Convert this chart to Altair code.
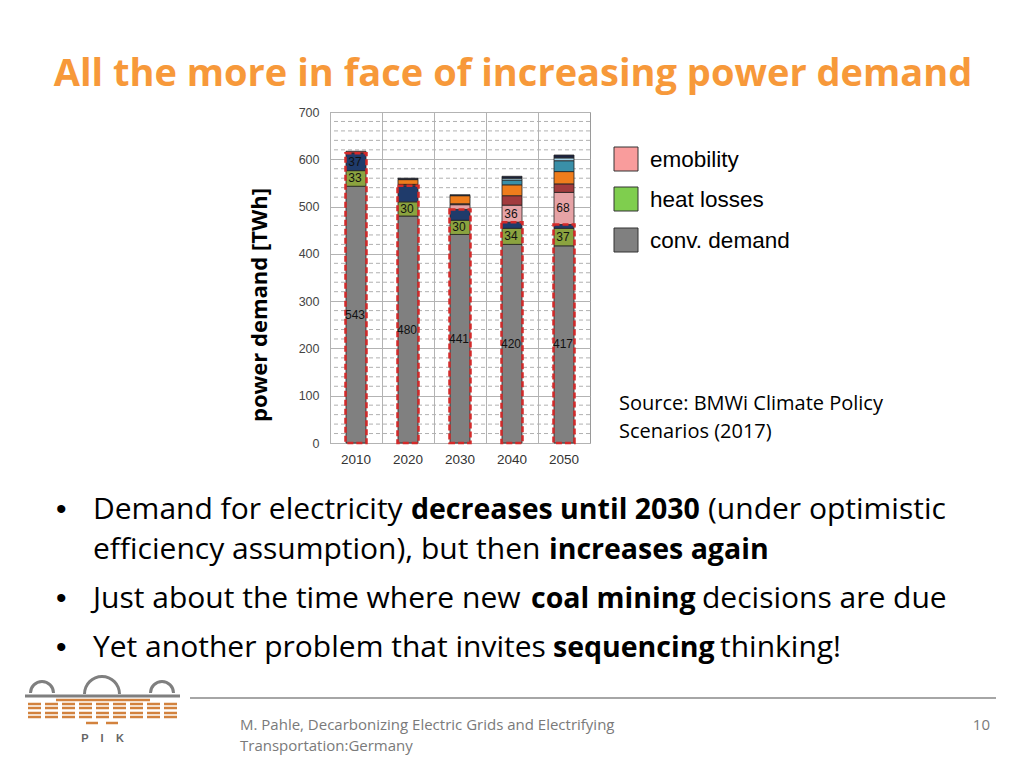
import altair as alt
import pandas as pd

# ---------------- data ----------------
years = ["2010", "2020", "2030", "2040", "2050"]
conv_demand = [543, 480, 441, 420, 417]
heat_losses = [33, 30, 30, 34, 37]
heat_pumps = [37, 34, 23, 13, 8]
emobility = [0, 2, 10, 36, 68]
industry = [4, 1, 2, 20, 18]
buildings = [0, 10, 17, 23, 26]
transport_other = [0, 0, 0, 10, 23]
hydrogen = [0, 0, 0, 4, 6]
other = [0, 3, 2, 4, 6]

series_names = ["conv. demand", "heat losses", "heat pumps", "emobility", "industry",
                "buildings", "transport other", "hydrogen", "other"]
series_values = [conv_demand, heat_losses, heat_pumps, emobility, industry,
                 buildings, transport_other, hydrogen, other]
series_colors = ["#808080", "#8ba33f", "#1f3b6b", "#e6a3a6", "#a23b3d",
                 "#ef7d1c", "#3a8fa8", "#a8d5ea", "#1b2340"]
labelled = {"conv. demand": years, "heat losses": years,
            "heat pumps": ["2010"], "emobility": ["2040", "2050"]}
outline_series = ["conv. demand", "heat losses", "heat pumps"]

legend_labels = ["emobility", "heat losses", "conv. demand"]
legend_colors = ["#f99c9c", "#7fce4e", "#808080"]

y_major = [0, 100, 200, 300, 400, 500, 600, 700]
y_minor = [v for v in range(20, 700, 20) if v % 100 != 0]

# ---------------- tables ----------------
rows, lab_rows = [], []
for i, y in enumerate(years):
    base = 0
    for name, vals in zip(series_names, series_values):
        v = vals[i]
        if v > 0:
            rows.append({"year": y, "series": name, "start": base, "end": base + v})
            if y in labelled.get(name, []):
                lab_rows.append({"year": y, "label": str(v), "mid": base + v / 2})
        base += v
df = pd.DataFrame(rows)
lab_df = pd.DataFrame(lab_rows)
out_df = pd.DataFrame({
    "year": years,
    "zero": [0] * len(years),
    "top": [sum(series_values[series_names.index(s)][i] for s in outline_series)
            for i in range(len(years))],
})
minor_df = pd.DataFrame({"v": y_minor})

# plot area sits at page (330,112), size 260x331
OX, OY = 330, 112
W, H = 260, 331
BODY = "Open Sans"

xenc = alt.X("year:N", sort=years,
             scale=alt.Scale(paddingInner=0, paddingOuter=0),
             axis=alt.Axis(title=None, labelAngle=0, grid=True, bandPosition=0,
                           gridColor="#b3b3b3", ticks=False, domain=False,
                           labelPadding=9, labelFont="Liberation Sans",
                           labelFontSize=13.5, labelColor="#333"))
yscale = alt.Scale(domain=[0, 700], nice=False)

minor = alt.Chart(minor_df).mark_rule(color="#b0b0b0", strokeDash=[4, 3], strokeWidth=1).encode(
    y=alt.Y("v:Q", scale=yscale,
            axis=alt.Axis(title=None, values=y_major, grid=True, gridColor="#b3b3b3",
                          ticks=False, domain=False, labelPadding=11,
                          labelFont="Liberation Sans", labelFontSize=12.5, labelColor="#444"))
)

bars = alt.Chart(df).mark_bar(width=20, stroke="#222", strokeWidth=0.8).encode(
    x=xenc,
    y=alt.Y("start:Q", scale=yscale),
    y2="end:Q",
    color=alt.Color("series:N", scale=alt.Scale(domain=series_names, range=series_colors),
                    legend=None),
)

outline = alt.Chart(out_df).mark_bar(width=21, fillOpacity=0, stroke="#d42a2a",
                                     strokeDash=[6, 3], strokeWidth=2.5).encode(
    x=alt.X("year:N", sort=years), y=alt.Y("zero:Q", scale=yscale), y2="top:Q")

seg_labels = alt.Chart(lab_df).mark_text(font="Liberation Sans", fontSize=12, color="#111",
                                         dx=-1).encode(
    x=alt.X("year:N", sort=years), y=alt.Y("mid:Q", scale=yscale), text="label:N")


def one():
    return pd.DataFrame({"k": [0]})


def txt(s, x, y, size, font=BODY, weight="normal", color="#000", align="left",
        baseline="alphabetic", angle=None):
    kw = dict(text=s, font=font, fontSize=size, fontWeight=weight, color=color,
              align=align, baseline=baseline)
    if angle is not None:
        kw["angle"] = angle
    return alt.Chart(one()).mark_text(**kw).encode(x=alt.value(x - OX), y=alt.value(y - OY))


def rect(x1, y1, x2, y2, fill, stroke="#333"):
    return alt.Chart(one()).mark_rect(fill=fill, stroke=stroke, strokeWidth=1).encode(
        x=alt.value(x1 - OX), x2=alt.value(x2 - OX), y=alt.value(y1 - OY), y2=alt.value(y2 - OY))


def hline(x1, x2, y, color, width, dash=None):
    kw = dict(color=color, strokeWidth=width)
    if dash:
        kw["strokeDash"] = dash
    return alt.Chart(one()).mark_rule(**kw).encode(
        x=alt.value(x1 - OX), x2=alt.value(x2 - OX), y=alt.value(y - OY))


def dome(cx, cy, r):
    return alt.Chart(one()).mark_arc(radius=r, radius2=r - 3, theta=4.7124, theta2=7.8540,
                                     color="#7f7f7f").encode(
        x=alt.value(cx - OX), y=alt.value(cy - OY))


layers = [minor, bars, outline, seg_labels]

# title
layers.append(txt("All the more in face of increasing power demand", 513, 86, 38,
                  weight="bold", color="#F7993A", align="center"))
# axis title
layers.append(txt("power demand [TWh]", 260, 305, 22, weight="bold", align="center",
                  baseline="middle", angle=270))
# legend
leg_y = [147, 187, 228]
for lab, col, yy in zip(legend_labels, legend_colors, leg_y):
    layers.append(rect(614, yy, 638, yy + 24, col))
    layers.append(txt(lab, 650, yy + 20, 22.5, font="Liberation Sans"))
# source
layers.append(txt("Source: BMWi Climate Policy", 619, 410, 20))
layers.append(txt("Scenarios (2017)", 619, 438, 20))

# bullets
bullet_lines = [
    (519, [("Demand for electricity", 93, "normal"), ("decreases until 2030", 411, "bold"),
           ("(under optimistic", 708, "normal")], True),
    (559, [("efficiency assumption), but then", 93, "normal"), ("increases again", 549, "bold")], False),
    (608, [("Just about the time where new", 93, "normal"), ("coal mining", 531, "bold"),
           ("decisions are due", 702, "normal")], True),
    (657, [("Yet another problem that invites", 93, "normal"), ("sequencing", 553, "bold"),
           ("thinking!", 720, "normal")], True),
]
for by, parts, has_bullet in bullet_lines:
    if has_bullet:
        layers.append(txt("•", 56, by, 30, font="Liberation Sans"))
    for s, bx, w in parts:
        layers.append(txt(s, bx, by, 30 if w == "normal" else 28.5, weight=w))

# footer
layers.append(hline(190, 996, 698, "#a6a6a6", 2))
layers.append(txt("M. Pahle, Decarbonizing Electric Grids and Electrifying", 240, 730, 15,
                  color="#7a7a7a"))
layers.append(txt("Transportation:Germany", 240, 751, 15, color="#7a7a7a"))
layers.append(txt("10", 990, 730, 15, color="#7a7a7a", align="right"))

# logo
orange_c = "#d2823e"
layers.append(dome(42, 693, 13))
layers.append(dome(102, 694, 19))
layers.append(dome(162, 693, 13))
layers.append(hline(25, 180, 696, "#7f7f7f", 3))
layers.append(hline(56, 150, 700, orange_c, 2.5))
for yy in [704, 708, 713, 717]:
    layers.append(hline(28, 178, yy, orange_c, 2.5, dash=[13, 4]))
layers.append(hline(86, 120, 723, orange_c, 2.5, dash=[12, 8]))
for ch, xx in zip(["P", "I", "K"], [85, 102, 120]):
    layers.append(txt(ch, xx, 742, 11, font="Liberation Sans", weight="bold", color="#666",
                      align="center"))

chart = alt.layer(*layers).properties(
    width=W, height=H,
    autosize=alt.AutoSizeParams(type="none"),
    padding={"left": OX - 8, "top": OY - 8, "right": 1000 - (OX - 8) - W,
             "bottom": 750 - (OY - 8) - H},
    background="white",
).configure_view(stroke="#9a9a9a", strokeWidth=1)

chart.save("out.html", embed_options={"renderer": "svg", "actions": False})
